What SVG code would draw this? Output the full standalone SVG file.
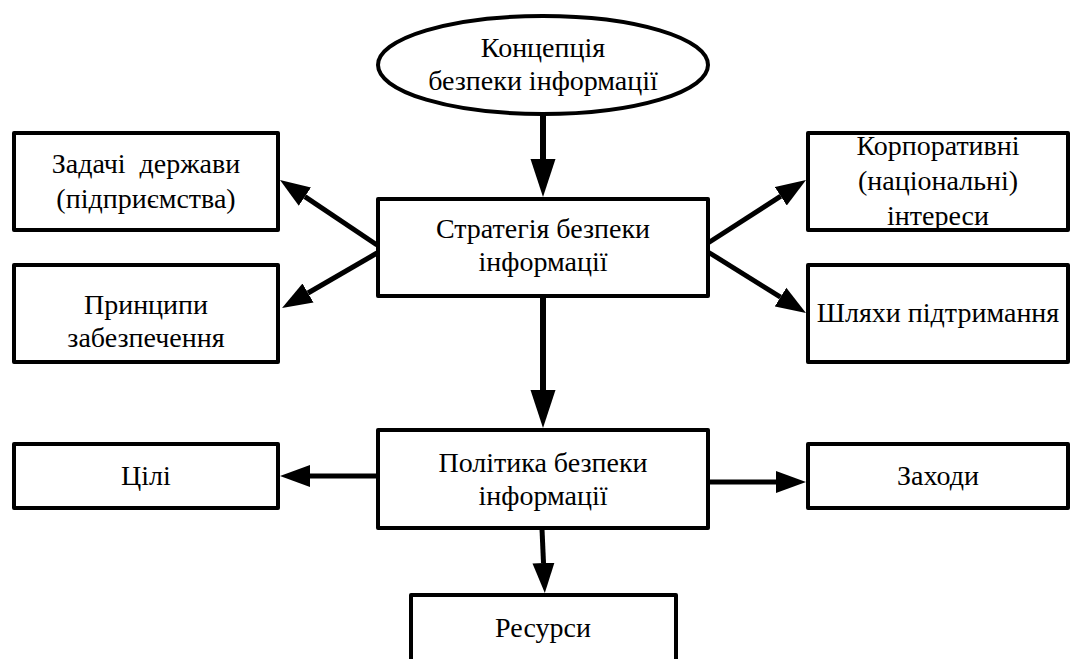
<svg xmlns="http://www.w3.org/2000/svg" width="1073" height="659" viewBox="0 0 1073 659">
<style>
.box{fill:#fff;stroke:#000;stroke-width:4;stroke-linejoin:round}
.t{font-family:'Liberation Serif','Times New Roman',serif;font-size:28px;fill:#000;text-anchor:middle}
.c{fill:none;stroke:#000;stroke-width:5}
.cb{fill:none;stroke:#000;stroke-width:6}
</style>
<defs>
<marker id="ah" markerUnits="userSpaceOnUse" viewBox="0 -12 31 24" refX="0" refY="0" markerWidth="31" markerHeight="24" orient="auto">
<path d="M0,-11 L30,0 L0,11 z" fill="#000"/>
</marker>
<marker id="ahb" markerUnits="userSpaceOnUse" viewBox="0 -13 39 26" refX="0" refY="0" markerWidth="39" markerHeight="26" orient="auto">
<path d="M0,-12.5 L38,0 L0,12.5 z" fill="#000"/>
</marker>
</defs>
<rect width="1073" height="659" fill="#fff"/>
<g id="connectors">
<path class="cb" d="M543,114 L543,159" marker-end="url(#ahb)"/>
<path class="cb" d="M543,297 L543,390" marker-end="url(#ahb)"/>
<path class="c" d="M542,529 L543.5,563" marker-end="url(#ah)"/>
<path class="c" d="M378,476 L310,476" marker-end="url(#ah)"/>
<path class="c" d="M708,482 L776,482" marker-end="url(#ah)"/>
<path class="c" d="M377,245 L304.9,196.7" marker-end="url(#ah)"/>
<path class="c" d="M377,253 L308,293" marker-end="url(#ah)"/>
<path class="c" d="M708,243 L780.8,196.2" marker-end="url(#ah)"/>
<path class="c" d="M708,252 L780.5,297.1" marker-end="url(#ah)"/>
</g>
<g id="concept">
<ellipse class="box" cx="543" cy="65" rx="165" ry="49"/>
<text class="t" x="543" y="57">Концепція</text>
<text class="t" x="543" y="90">безпеки інформації</text>
</g>
<g id="strategy">
<rect class="box" x="378" y="199" width="330" height="97"/>
<text class="t" x="543" y="238">Стратегія безпеки</text>
<text class="t" x="543" y="271">інформації</text>
</g>
<g id="tasks">
<rect class="box" x="14" y="133" width="264" height="97"/>
<text class="t" x="146" y="173" xml:space="preserve">Задачі  держави</text>
<text class="t" x="146" y="208">(підприємства)</text>
</g>
<g id="principles">
<rect class="box" x="14" y="265" width="264" height="97"/>
<text class="t" x="146" y="314">Принципи</text>
<text class="t" x="146" y="347">забезпечення</text>
</g>
<g id="interests">
<rect class="box" x="808" y="133" width="260" height="97"/>
<text class="t" x="938" y="155">Корпоративні</text>
<text class="t" x="938" y="190">(національні)</text>
<text class="t" x="938" y="225">інтереси</text>
</g>
<g id="ways">
<rect class="box" x="808" y="265" width="260" height="97"/>
<text class="t" x="938" y="322">Шляхи підтримання</text>
</g>
<g id="policy">
<rect class="box" x="378" y="430" width="330" height="98"/>
<text class="t" x="543" y="472">Політика безпеки</text>
<text class="t" x="543" y="505">інформації</text>
</g>
<g id="goals">
<rect class="box" x="14" y="444" width="264" height="64"/>
<text class="t" x="146" y="485">Цілі</text>
</g>
<g id="measures">
<rect class="box" x="808" y="444" width="260" height="64"/>
<text class="t" x="938" y="485">Заходи</text>
</g>
<g id="resources">
<rect class="box" x="411" y="595" width="265" height="90"/>
<text class="t" x="543" y="637">Ресурси</text>
</g>
</svg>
